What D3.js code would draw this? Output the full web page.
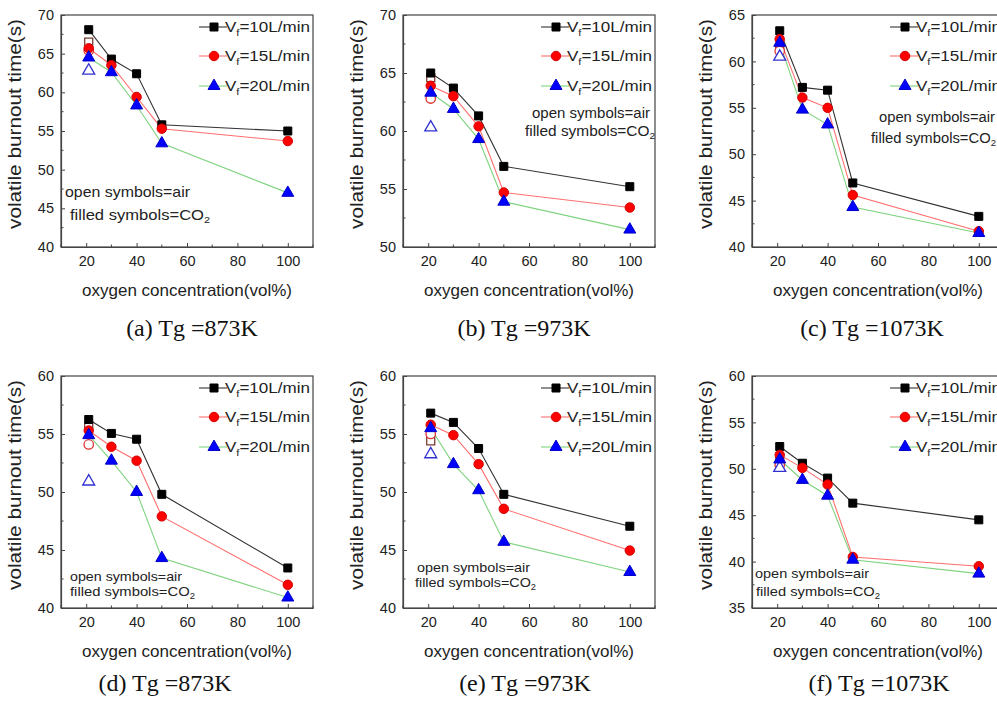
<!DOCTYPE html>
<html><head><meta charset="utf-8">
<script src="https://cdn.jsdelivr.net/npm/d3@7"></script>
<style>html,body{margin:0;padding:0;background:#fff;overflow:hidden}</style>
</head><body>
<svg id="chart" width="997" height="702"></svg>
<script>
// ---------- data ----------
const oxygen = [21, 30, 40, 50, 100];            // vol% O2 (CO2 atmosphere, filled symbols)
const airOxygen = 21;                             // air (open symbols)
const seriesNames = ["10L/min", "15L/min", "20L/min"];
const captions = ["(a) Tg =873K", "(b) Tg =973K", "(c) Tg =1073K", "(d) Tg =873K", "(e) Tg =973K", "(f) Tg =1073K"];
const xTicks = [20, 40, 60, 80, 100];
const yTicksA = [40, 45, 50, 55, 60, 65, 70];
const yTicksB = [50, 55, 60, 65, 70];
const yTicksC = [40, 45, 50, 55, 60, 65];
const yTicksD = [40, 45, 50, 55, 60];
const yTicksE = [40, 45, 50, 55, 60];
const yTicksF = [35, 40, 45, 50, 55, 60];

const a10 = [68.1, 64.3, 62.4, 55.8, 55.0];
const a15 = [65.7, 63.5, 59.4, 55.3, 53.7];
const a20 = [64.5, 62.6, 58.3, 53.4, 47.0];
const aAir = [66.5, 65.4, 62.8];

const b10 = [65.0, 63.7, 61.3, 56.95, 55.2];
const b15 = [63.9, 63.0, 60.4, 54.7, 53.4];
const b20 = [63.3, 61.9, 59.3, 53.9, 51.5];
const bAir = [64.6, 62.8, 60.3];

const c10 = [63.3, 57.2, 56.9, 46.9, 43.3];
const c15 = [62.4, 56.1, 55.0, 45.6, 41.7];
const c20 = [62.0, 54.8, 53.2, 44.3, 41.5];
const cAir = [61.5, 61.1, 60.5];

const d10 = [56.25, 55.05, 54.55, 49.8, 43.45];
const d15 = [55.3, 53.9, 52.7, 47.9, 42.0];
const d20 = [54.9, 52.7, 50.0, 44.3, 40.9];
const dAir = [55.7, 54.1, 50.9];

const e10 = [56.8, 56.0, 53.75, 49.8, 47.05];
const e15 = [55.8, 54.9, 52.4, 48.55, 44.95];
const e20 = [55.5, 52.4, 50.15, 45.7, 43.1];
const eAir = [54.4, 55.0, 53.25];

const f10 = [52.4, 50.6, 49.0, 46.3, 44.5];
const f15 = [51.5, 50.1, 48.3, 40.5, 39.5];
const f20 = [51.0, 48.8, 47.1, 40.2, 38.7];
const fAir = [50.8, 50.4, 50.1];

// ---------- layout / style ----------
const W = 252, H = 232;
const layout = [
  {left: 61,  top: 15,  ticks: yTicksA, series: [a10, a15, a20], air: aAir, cap: [192, 336],
   note: {anchor: "start", x1: 65, y1: 192, x2: 70, y2: 215, fs: 15, w1: 125, w2: 140}},
  {left: 403, top: 15,  ticks: yTicksB, series: [b10, b15, b20], air: bAir, cap: [524, 336],
   note: {anchor: "end", x1: 650, y1: 113, x2: 655, y2: 131, fs: 14, w1: 118, w2: 130}},
  {left: 752, top: 15,  ticks: yTicksC, series: [c10, c15, c20], air: cAir, cap: [872, 336],
   note: {anchor: "end", x1: 995, y1: 117, x2: 996, y2: 138, fs: 14, w1: 116, w2: 125}},
  {left: 61,  top: 376, ticks: yTicksD, series: [d10, d15, d20], air: dAir, cap: [165, 691],
   note: {anchor: "start", x1: 70, y1: 576, x2: 70, y2: 591, fs: 13, w1: 112, w2: 125}},
  {left: 403, top: 376, ticks: yTicksE, series: [e10, e15, e20], air: eAir, cap: [525, 691],
   note: {anchor: "start", x1: 417, y1: 567, x2: 415, y2: 582, fs: 13, w1: 113, w2: 121}},
  {left: 752, top: 376, ticks: yTicksF, series: [f10, f15, f20], air: fAir, cap: [879, 691],
   note: {anchor: "start", x1: 755, y1: 573, x2: 756, y2: 591, fs: 13.5, w1: 114, w2: 124}}
];
const lineColors = ["#333333", "#ff6f6f", "#7fd37f"];
const fillColors = ["#000000", "#ff0000", "#0000ff"];
const strokeColors = ["#000000", "#d40000", "#0000c8"];
const openColors = ["#7a3b30", "#e03030", "#3030d0"];
const shapes = [d3.symbolSquare, d3.symbolCircle, d3.symbolTriangle];
const sizes = [64, 70, 62];
const sans = "'Liberation Sans', Arial, sans-serif";
const serif = "'Liberation Serif', 'Times New Roman', serif";
const axisColor = "#222";

const svg = d3.select("#chart");

layout.forEach((p, i) => {
  const yMin = d3.min(p.ticks), yMax = d3.max(p.ticks);
  const x = d3.scaleLinear().domain([10, 110]).range([p.left, p.left + W]);
  const y = d3.scaleLinear().domain([yMin, yMax]).range([p.top + H, p.top]);
  const g = svg.append("g");

  // frame
  g.append("rect").attr("x", p.left).attr("y", p.top).attr("width", W).attr("height", H)
    .attr("fill", "none").attr("stroke", "#444").attr("stroke-width", 1.2);

  // axes (inward ticks)
  const xAxis = d3.axisBottom(x).tickValues(xTicks).tickSize(-4).tickPadding(9).tickSizeOuter(0);
  const xa = g.append("g").attr("transform", `translate(0,${p.top + H})`).call(xAxis);
  const yAxis = d3.axisLeft(y).tickValues(p.ticks).tickSize(-4).tickPadding(7).tickSizeOuter(0);
  const ya = g.append("g").attr("transform", `translate(${p.left},0)`).call(yAxis);
  [xa, ya].forEach(a => {
    a.select(".domain").attr("stroke", "#444").attr("stroke-width", 1.2);
    a.selectAll(".tick line").attr("stroke", "#444");
    a.selectAll("text").attr("font-family", sans).attr("font-size", 14.5).attr("fill", axisColor);
  });
  // minor ticks
  const xMinor = d3.range(10, 111, 20);
  g.append("g").selectAll("line").data(xMinor).join("line")
    .attr("x1", d => x(d)).attr("x2", d => x(d))
    .attr("y1", p.top + H).attr("y2", p.top + H - 2.5).attr("stroke", "#444");
  const yMinor = d3.range(yMin + 2.5, yMax, 5);
  g.append("g").selectAll("line").data(yMinor).join("line")
    .attr("x1", p.left).attr("x2", p.left + 2.5)
    .attr("y1", d => y(d)).attr("y2", d => y(d)).attr("stroke", "#444");

  // axis titles
  g.append("text").attr("x", p.left + W / 2).attr("y", p.top + H + 49)
    .attr("text-anchor", "middle").attr("font-family", sans).attr("font-size", 16.5)
    .attr("textLength", 210).attr("lengthAdjust", "spacingAndGlyphs")
    .attr("fill", axisColor).text("oxygen concentration(vol%)");
  g.append("text")
    .attr("transform", `translate(${p.left - 40},${p.top + H / 2 - 7}) rotate(-90)`)
    .attr("text-anchor", "middle").attr("font-family", sans).attr("font-size", 18)
    .attr("textLength", 210).attr("lengthAdjust", "spacingAndGlyphs")
    .attr("fill", axisColor).text("volatile burnout time(s)");

  // caption
  g.append("text").attr("x", p.cap[0]).attr("y", p.cap[1]).attr("text-anchor", "middle")
    .attr("font-family", serif).attr("font-size", 24).attr("fill", "#111").text(captions[i]);

  // series lines
  const line = d3.line().x((d, k) => x(oxygen[k])).y(d => y(d));
  p.series.forEach((s, k) => {
    g.append("path").datum(s).attr("d", line).attr("fill", "none")
      .attr("stroke", lineColors[k]).attr("stroke-width", 1.1);
  });
  // open symbols (air)
  p.air.forEach((v, k) => {
    g.append("path").attr("d", d3.symbol(shapes[k], sizes[k])())
      .attr("transform", `translate(${x(airOxygen)},${y(v)})`)
      .attr("fill", "#fff").attr("stroke", openColors[k]).attr("stroke-width", 1.3);
  });
  // filled symbols (CO2)
  p.series.forEach((s, k) => {
    g.append("g").selectAll("path").data(s).join("path")
      .attr("d", d3.symbol(shapes[k], sizes[k])())
      .attr("transform", (d, j) => `translate(${x(oxygen[j])},${y(d)})`)
      .attr("fill", fillColors[k]).attr("stroke", strokeColors[k]).attr("stroke-width", 1);
  });

  // legend
  const legY = [12, 41, 71];
  seriesNames.forEach((name, k) => {
    const ly = p.top + legY[k];
    const lx = p.left + 153;
    g.append("line").attr("x1", lx - 15).attr("x2", lx + 13).attr("y1", ly).attr("y2", ly)
      .attr("stroke", lineColors[k]).attr("stroke-width", 1.1);
    g.append("path").attr("d", d3.symbol(shapes[k], sizes[k])())
      .attr("transform", `translate(${lx},${ly})`)
      .attr("fill", fillColors[k]).attr("stroke", strokeColors[k]);
    const t = g.append("text").attr("x", lx + 11).attr("y", ly + 5)
      .attr("font-family", sans).attr("font-size", 14).attr("fill", axisColor)
      .attr("textLength", 85).attr("lengthAdjust", "spacingAndGlyphs");
    t.append("tspan").text("V");
    t.append("tspan").attr("font-size", 9).attr("dy", 4).text("f");
    t.append("tspan").attr("dy", -4).text("=" + name);
  });

  // note
  const n = p.note;
  g.append("text").attr("x", n.x1).attr("y", n.y1 + 5).attr("text-anchor", n.anchor)
    .attr("font-family", sans).attr("font-size", n.fs).attr("fill", axisColor)
    .attr("textLength", n.w1).attr("lengthAdjust", "spacingAndGlyphs")
    .text("open symbols=air");
  const t2 = g.append("text").attr("x", n.x2).attr("y", n.y2 + 5).attr("text-anchor", n.anchor)
    .attr("font-family", sans).attr("font-size", n.fs).attr("fill", axisColor)
    .attr("textLength", n.w2).attr("lengthAdjust", "spacingAndGlyphs");
  t2.append("tspan").text("filled symbols=CO");
  t2.append("tspan").attr("font-size", n.fs * 0.65).attr("dy", 3).text("2");
});
</script>
</body></html>
